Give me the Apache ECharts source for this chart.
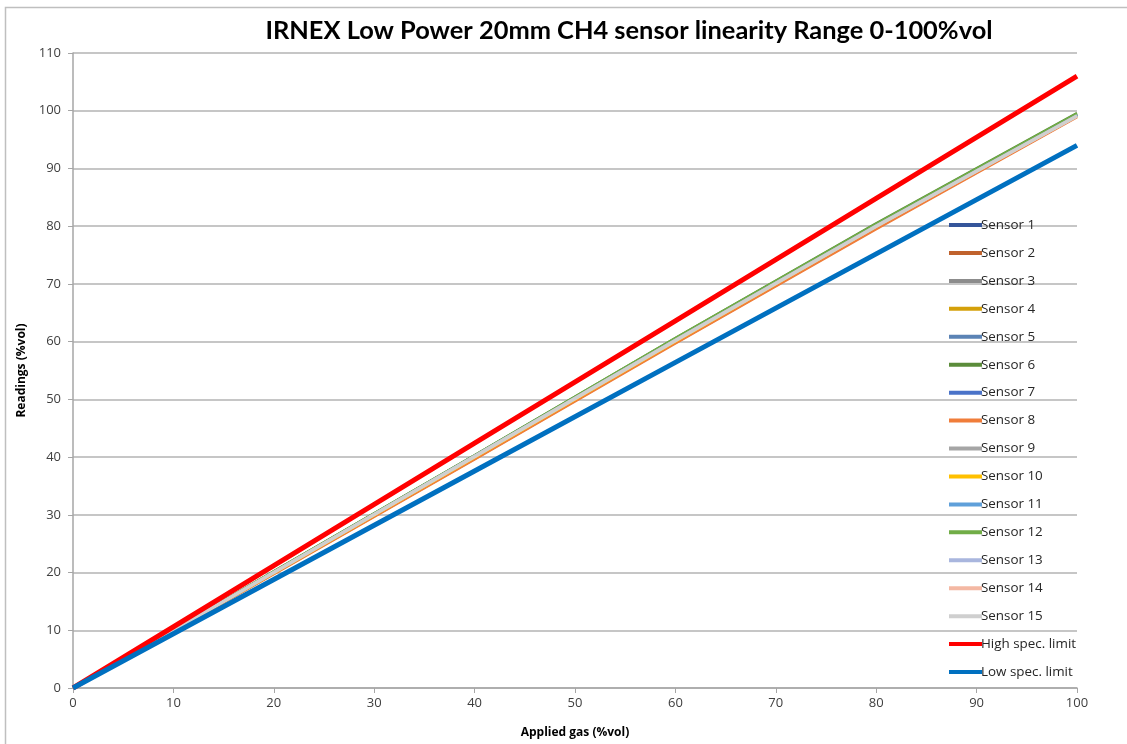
<!DOCTYPE html>
<html>
<head>
<meta charset="utf-8">
<script src="https://cdn.jsdelivr.net/npm/echarts@6/dist/echarts.min.js"></script>
<style>
html,body{margin:0;padding:0;background:#fff;}
#chart{width:1127px;height:744px;}
</style>
</head>
<body>
<div id="chart"></div>
<script>
const appliedGas = [0, 20, 40, 60, 80, 100];
const sensorNames = ['Sensor 1','Sensor 2','Sensor 3','Sensor 4','Sensor 5','Sensor 6','Sensor 7','Sensor 8','Sensor 9','Sensor 10','Sensor 11','Sensor 12','Sensor 13','Sensor 14','Sensor 15'];
const sensor1  = [0, 20.1, 40.2, 60.4, 80.1, 99.3];
const sensor2  = [0, 19.8, 39.7, 59.8, 79.6, 99.0];
const sensor3  = [0, 20.0, 40.1, 60.2, 80.0, 99.2];
const sensor4  = [0, 19.9, 39.9, 60.0, 79.8, 99.1];
const sensor5  = [0, 20.1, 40.2, 60.5, 80.3, 99.4];
const sensor6  = [0, 20.2, 40.3, 60.6, 80.5, 99.6];
const sensor7  = [0, 20.1, 40.2, 60.4, 80.2, 99.3];
const sensor8  = [0, 19.7, 39.6, 59.7, 79.5, 98.9];
const sensor9  = [0, 20.0, 40.1, 60.2, 80.0, 99.2];
const sensor10 = [0, 19.9, 39.9, 60.0, 79.9, 99.1];
const sensor11 = [0, 20.1, 40.2, 60.4, 80.2, 99.3];
const sensor12 = [0, 20.2, 40.3, 60.6, 80.4, 99.5];
const sensor13 = [0, 20.1, 40.2, 60.3, 80.1, 99.2];
const sensor14 = [0, 20.0, 40.0, 60.1, 79.9, 99.0];
const sensor15 = [0, 20.0, 40.1, 60.2, 80.0, 99.1];
const highLimit = [0, 21.2, 42.4, 63.6, 84.8, 106];
const lowLimit  = [0, 18.8, 37.6, 56.4, 75.2, 94];

const sensorData = [sensor1,sensor2,sensor3,sensor4,sensor5,sensor6,sensor7,sensor8,sensor9,sensor10,sensor11,sensor12,sensor13,sensor14,sensor15];
const sensorColors = ['#35559A','#C0622D','#8C8C8C','#D4A00A','#5B83B5','#5B8C3A','#4A73C9','#F07D3A','#A5A5A5','#FFC000','#5FA0DA','#71AD47','#A9B6DE','#F4B8A3','#CFCFCF'];

function pairs(xs, ys){ return xs.map((x,i)=>[x, ys[i]]); }

const series = sensorNames.map((n,i)=>({
  name:n, type:'line', data:pairs(appliedGas, sensorData[i]),
  showSymbol:false, symbol:'none',
  lineStyle:{color:sensorColors[i], width: i===14 ? 3.5 : 2.5},
  itemStyle:{color:sensorColors[i]}
}));
series.push({name:'High spec. limit', type:'line', data:pairs(appliedGas, highLimit), symbol:'none', lineStyle:{color:'#FF0000', width:5}, itemStyle:{color:'#FF0000'}});
series.push({name:'Low spec. limit', type:'line', data:pairs(appliedGas, lowLimit), symbol:'none', lineStyle:{color:'#0070C0', width:5}, itemStyle:{color:'#0070C0'}});

const chart = echarts.init(document.getElementById('chart'));
chart.setOption({
  animation:false,
  backgroundColor:'#fff',
  title:{
    text:'IRNEX Low Power 20mm CH4 sensor linearity Range 0-100%vol',
    left:624, top:13, textAlign:'center',
    textStyle:{fontFamily:'Lato', fontWeight:'bold', fontSize:25.4, color:'#000'}
  },
  graphic:[{type:'rect', silent:true, z:-10, shape:{x:5.5, y:7.5, width:1200, height:800}, style:{fill:'none', stroke:'#BFBFBF', lineWidth:1.5}}],
  grid:{left:73, right:50, top:53, bottom:55},
  legend:{
    orient:'vertical', left:944, top:212,
    itemWidth:33, itemHeight:4, itemGap:11.94, icon:'rect',
    textStyle:{fontFamily:'Open Sans', fontSize:13.4, color:'#262626', lineHeight:16, padding:[0,0,0,-6]},
    data: sensorNames.concat(['High spec. limit','Low spec. limit'])
  },
  xAxis:{
    type:'value', min:0, max:100, interval:10,
    name:'Applied gas (%vol)', nameLocation:'middle', nameGap:39,
    nameTextStyle:{fontFamily:'Open Sans', fontWeight:'bold', fontSize:12, color:'#000'},
    axisLine:{show:true, lineStyle:{color:'#A6A6A6', width:1.5}},
    axisTick:{show:true, length:5, lineStyle:{color:'#A6A6A6'}},
    axisLabel:{fontFamily:'Open Sans', fontSize:13, color:'#404040', margin:9},
    splitLine:{show:false}
  },
  yAxis:{
    type:'value', min:0, max:110, interval:10,
    name:'Readings (%vol)', nameLocation:'middle', nameGap:45, nameRotate:90,
    nameTextStyle:{fontFamily:'Open Sans', fontWeight:'bold', fontSize:12, color:'#000'},
    axisLine:{show:true, lineStyle:{color:'#A6A6A6', width:1.5}},
    axisTick:{show:true, length:5, lineStyle:{color:'#A6A6A6'}},
    axisLabel:{fontFamily:'Open Sans', fontSize:13, color:'#404040', margin:12},
    splitLine:{show:true, lineStyle:{color:'#B3B3B3', width:1.5}}
  },
  series:series
});
</script>
</body>
</html>
